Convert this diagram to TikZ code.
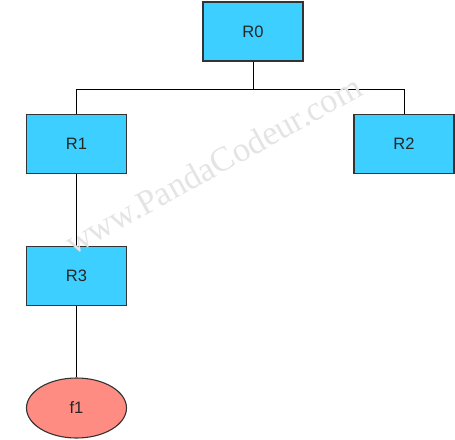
\documentclass[tikz,border=0pt]{standalone}
\usepackage{fontspec}
\setmainfont{Liberation Sans}
\newfontfamily\wmfont{Liberation Serif}
\usetikzlibrary{shapes.geometric}
\definecolor{boxfill}{RGB}{61,207,255}
\definecolor{leaffill}{RGB}{255,140,130}
\definecolor{edgegray}{RGB}{51,51,51}
\definecolor{wmgray}{RGB}{228,228,228}
\tikzset{
  rbox/.style={draw=edgegray, line width=1.1pt, fill=boxfill, minimum width=100pt, minimum height=59pt, inner sep=0pt, font=\fontsize{16.5}{19}\selectfont, text=black!85},
  leaf/.style={ellipse, draw=edgegray, line width=1.1pt, fill=leaffill, minimum width=100pt, minimum height=60pt, inner sep=0pt, font=\fontsize{16.5}{19}\selectfont, text=black!85},
  conn/.style={line width=1pt, black}
}
\begin{document}
\begin{tikzpicture}[x=1pt,y=-1pt]
\useasboundingbox (0,0) rectangle (455,439);
\node[rbox] (R0) at (253,31.5) {R0};
\node[rbox] (R1) at (76.5,144) {R1};
\node[rbox] (R2) at (404,144) {R2};
\node[rbox] (R3) at (76.5,276) {R3};
\node[leaf] (f1) at (76.5,408) {f1};
\coordinate (j) at (253,89);
\draw[conn] (R0.south) -- (j);
\draw[conn] (j) -| (R1.north);
\draw[conn] (j) -| (R2.north);
\draw[conn] (R1.south) -- (R3.north);
\draw[conn] (R3.south) -- (f1.north);
\node[anchor=base west, rotate=29, inner sep=0pt, text=wmgray, font=\wmfont\fontsize{34.5}{38}\selectfont] (wm) at (73,256) {www.PandaCodeur.com};
\end{tikzpicture}
\end{document}
